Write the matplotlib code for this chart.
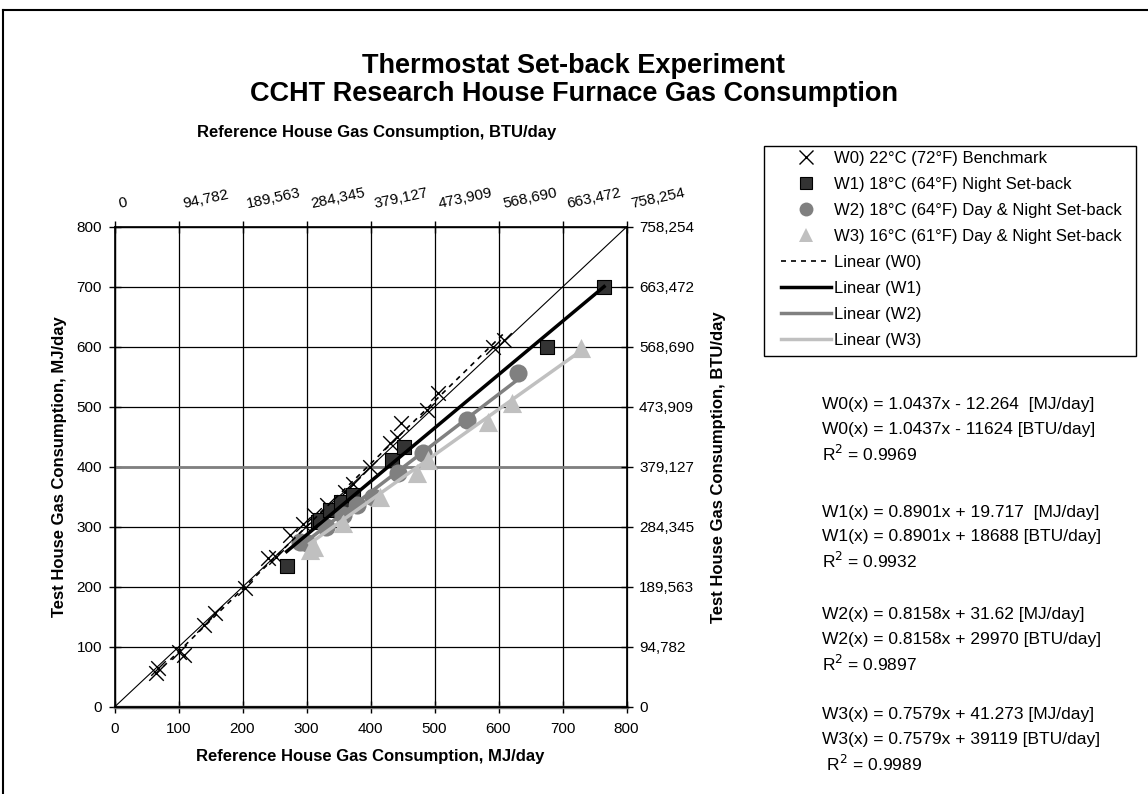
import matplotlib.pyplot as plt
from matplotlib.lines import Line2D
from matplotlib.patches import Rectangle
from matplotlib.transforms import ScaledTranslation
import numpy as np

plt.rcParams['font.family'] = ['Liberation Sans', 'DejaVu Sans']

# W0) 22C benchmark
w0_x = [65, 68, 100, 108, 140, 157, 204, 240, 253, 274, 295, 311, 332, 360, 373, 399,
        430, 441, 448, 488, 505, 591, 608]
w0_y = [57, 65, 92, 87, 137, 157, 198, 248, 250, 287, 305, 320, 336, 358, 372, 400,
        440, 450, 473, 495, 523, 600, 612]
# W1) 18C night set-back
w1_x = [269, 318, 321, 337, 354, 373, 433, 453, 676, 765]
w1_y = [235, 309, 312, 328, 342, 353, 412, 433, 600, 700]
# W2) 18C day & night set-back
w2_x = [290, 300, 330, 357, 379, 404, 443, 482, 551, 631]
w2_y = [275, 273, 300, 320, 337, 350, 390, 423, 478, 556]
# W3) 16C day & night set-back
w3_x = [305, 311, 357, 415, 472, 490, 584, 621, 729]
w3_y = [262, 267, 307, 350, 390, 412, 475, 507, 598]

# trend line coefficients (MJ/day)
slopes = [1.0437, 0.8901, 0.8158, 0.7579]
intercepts = [-12.264, 19.717, 31.62, 41.273]

ticks = [0, 100, 200, 300, 400, 500, 600, 700, 800]
btu_labels = ['0', '94,782', '189,563', '284,345', '379,127', '473,909',
              '568,690', '663,472', '758,254']

eq_lines = [
    ['W0(x) = 1.0437x - 12.264  [MJ/day]', 'W0(x) = 1.0437x - 11624 [BTU/day]', 'R$^2$ = 0.9969'],
    ['W1(x) = 0.8901x + 19.717  [MJ/day]', 'W1(x) = 0.8901x + 18688 [BTU/day]', 'R$^2$ = 0.9932'],
    ['W2(x) = 0.8158x + 31.62 [MJ/day]', 'W2(x) = 0.8158x + 29970 [BTU/day]', 'R$^2$ = 0.9897'],
    ['W3(x) = 0.7579x + 41.273 [MJ/day]', 'W3(x) = 0.7579x + 39119 [BTU/day]', ' R$^2$ = 0.9989'],
]

fig = plt.figure(figsize=(11.48, 7.94), dpi=100)
W, H = 1148, 794
ax = fig.add_axes([114.5 / W, (H - 707) / H, 512 / W, 480 / H])

ax.set_xlim(0, 800)
ax.set_ylim(0, 800)
ax.set_xticks(ticks)
ax.set_yticks(ticks)
ax.grid(True, color='black', lw=0.9)
ax.axhline(400, color='#808080', lw=2, zorder=2)
ax.axhline(0, color='#808080', lw=2.5, zorder=2, clip_on=False)
ax.plot([0, 800], [0, 800], color='black', lw=0.8, zorder=2)

ax.scatter(w0_x, w0_y, marker='x', s=110, color='black', lw=1.0, zorder=3)
ax.scatter(w1_x, w1_y, marker='s', s=100, color='#333333', edgecolors='black', lw=0.8, zorder=3)
ax.scatter(w2_x, w2_y, marker='o', s=170, color='#808080', lw=0, zorder=3)
ax.scatter(w3_x, w3_y, marker='^', s=190, color='#c0c0c0', lw=0, zorder=3)

styles = [dict(color='black', lw=1.2, ls=(0, (3, 3))),
          dict(color='black', lw=2.5),
          dict(color='#808080', lw=2.5),
          dict(color='#c0c0c0', lw=2.5)]
for xs, m, b, st in zip([w0_x, w1_x, w2_x, w3_x], slopes, intercepts, styles):
    xx = np.array([min(xs), max(xs)])
    ax.plot(xx, m * xx + b, zorder=4, **st)

for s in ax.spines.values():
    s.set_color('black')
    s.set_linewidth(1.2)
ax.tick_params(direction='inout', length=8, width=1, labelsize=11)
ax.tick_params(axis='x', pad=7)
ax.tick_params(axis='y', pad=5)
ax.set_xlabel('Reference House Gas Consumption, MJ/day', fontsize=12, fontweight='bold', labelpad=9)
ax.set_ylabel('Test House Gas Consumption, MJ/day', fontsize=12, fontweight='bold', labelpad=7)

ax2 = ax.twinx()
ax2.set_ylim(0, 800)
ax2.set_yticks(ticks)
ax2.set_yticklabels(btu_labels)
ax2.tick_params(direction='inout', length=8, width=1, labelsize=11, pad=5)
ax2.set_ylabel('Test House Gas Consumption, BTU/day', fontsize=12, fontweight='bold', labelpad=12)

ax3 = ax.twiny()
ax3.set_xlim(0, 800)
ax3.set_xticks(ticks)
ax3.set_xticklabels(btu_labels, rotation=12, ha='left', va='baseline', rotation_mode='anchor')
ax3.tick_params(direction='inout', length=8, width=1, labelsize=11, pad=10)
shift = ScaledTranslation(5 / 100, 0, fig.dpi_scale_trans)
for lbl in ax3.get_xticklabels():
    lbl.set_transform(lbl.get_transform() + shift)
fig.text(0.5 * (114.5 + 626.5) / W + 0.005, 1 - 133 / H, 'Reference House Gas Consumption, BTU/day',
         ha='center', va='center', fontsize=12, fontweight='bold')

fig.text(0.5, 1 - 66 / H, 'Thermostat Set-back Experiment', ha='center', va='center',
         fontsize=19.5, fontweight='bold')
fig.text(0.5, 1 - 94 / H, 'CCHT Research House Furnace Gas Consumption', ha='center', va='center',
         fontsize=19.5, fontweight='bold')

handles = [
    Line2D([], [], ls='none', marker='x', ms=10, color='black', mew=1.0),
    Line2D([], [], ls='none', marker='s', ms=9, color='#333333', mec='black', mew=0.8),
    Line2D([], [], ls='none', marker='o', ms=10, color='#808080', mew=0),
    Line2D([], [], ls='none', marker='^', ms=10, color='#c0c0c0', mew=0),
    Line2D([], [], **styles[0]),
    Line2D([], [], **styles[1]),
    Line2D([], [], **styles[2]),
    Line2D([], [], **styles[3]),
]
labels = ['W0) 22°C (72°F) Benchmark', 'W1) 18°C (64°F) Night Set-back',
          'W2) 18°C (64°F) Day & Night Set-back', 'W3) 16°C (61°F) Day & Night Set-back',
          'Linear (W0)', 'Linear (W1)', 'Linear (W2)', 'Linear (W3)']
leg = fig.legend(handles, labels, loc='upper left', bbox_to_anchor=(781 / W, 1 - 151 / H),
                 fontsize=12, frameon=False, handlelength=3.0, handletextpad=0.15,
                 labelspacing=0.66, borderpad=0, borderaxespad=0)
fig.add_artist(Rectangle((764 / W, 1 - 356 / H), (1136 - 764) / W, (356 - 146) / H,
                         transform=fig.transFigure, fill=False, edgecolor='black', lw=1.0))

block_tops = [405, 512, 615, 715]
for top, lines in zip(block_tops, eq_lines):
    for i, t in enumerate(lines):
        fig.text(822 / W, 1 - (top + 24.5 * i) / H, t, ha='left', va='center', fontsize=12.5)

fig.add_artist(Line2D([3 / W, 3 / W], [0, 1 - 10 / H], color='black', lw=1.5))
fig.add_artist(Line2D([3 / W, 1], [1 - 10 / H, 1 - 10 / H], color='black', lw=1.5))

fig.savefig('out.png', dpi=100)
